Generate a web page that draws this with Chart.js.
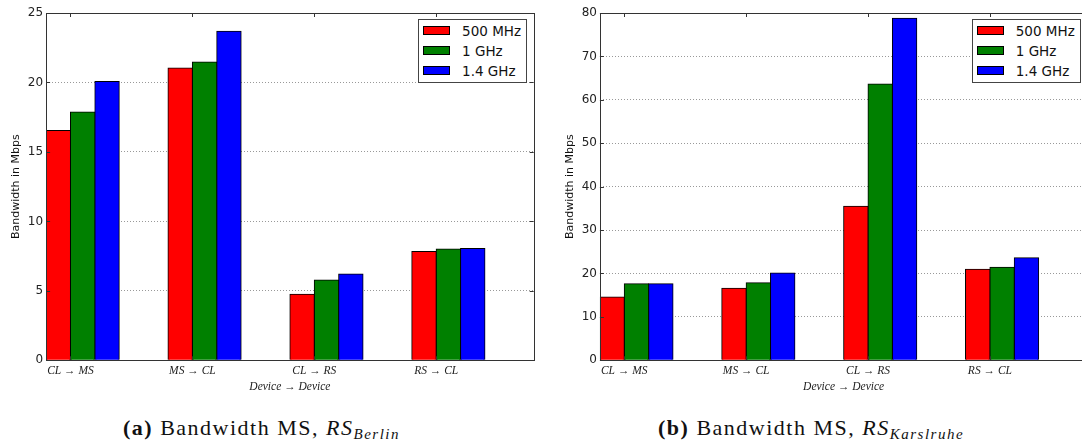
<!DOCTYPE html>
<html>
<head>
<meta charset="utf-8">
<script src="https://cdn.jsdelivr.net/npm/chart.js@4/dist/chart.umd.min.js"></script>
<style>
  html, body { margin: 0; padding: 0; background: #fff; overflow: hidden; }
  body { position: relative; width: 1082px; height: 447px; }
  .panel { position: absolute; top: 0; height: 400px; }
  .panel canvas { display: block; }
  .legend {
    position: absolute; box-sizing: border-box; width: 109.2px; height: 63.4px;
    border: 1px solid #444; background: #fff; padding-top: 0.5px;
    font-family: "DejaVu Sans", sans-serif; font-size: 13.5px; color: #111;
  }
  .legend .row { height: 20px; display: flex; align-items: center; }
  .legend .swatch {
    box-sizing: border-box; width: 27.6px; height: 9px; margin-left: 4px; margin-right: 11.7px;
    border: 1px solid #000;
  }
  .caption {
    position: absolute; top: 417.3px; white-space: nowrap;
    font-family: "Liberation Serif", serif; font-size: 22px; line-height: 22px; color: #111;
    letter-spacing: 1.5px;
  }
  .caption b { font-weight: bold; }
  .caption i { font-style: italic; }
  .caption .sub { font-style: italic; font-size: 15px; vertical-align: -4px; }
</style>
</head>
<body>
<div class="panel" id="panelBerlin" style="left:0; width:541px;">
  <canvas id="berlinChart" width="541" height="400"></canvas>
</div>
<div class="panel" id="panelKarlsruhe" style="left:541px; width:560px;">
  <canvas id="karlsruheChart" width="560" height="400"></canvas>
</div>
<div class="caption" style="left:123px;"><b>(a)</b> Bandwidth MS, <i>RS</i><span class="sub">Berlin</span></div>
<div class="caption" style="left:658px;"><b>(b)</b> Bandwidth MS, <i>RS</i><span class="sub">Karslruhe</span></div>

<script>
const categories = ['CL → MS', 'MS → CL', 'CL → RS', 'RS → CL'];
const clockRates = ['500 MHz', '1 GHz', '1.4 GHz'];
const barColors = ['#ff0000', '#008000', '#0000ff'];

// measured bandwidth (Mbps), RS located in Berlin
const berlin500 = [16.55, 21.04, 4.75, 7.84];
const berlin1000 = [17.87, 21.47, 5.78, 8.01];
const berlin1400 = [20.07, 23.68, 6.21, 8.04];
const berlinMax = 25;
const berlinStep = 5;

// measured bandwidth (Mbps), RS located in Karlsruhe
const karlsruhe500 = [14.58, 16.58, 35.47, 20.96];
const karlsruhe1000 = [17.65, 17.88, 63.65, 21.42];
const karlsruhe1400 = [17.65, 20.11, 78.77, 23.64];
const karlsruheMax = 80;
const karlsruheStep = 10;

const serifItalic = { family: 'Liberation Serif', style: 'italic', size: 11.5 };

// closed axes box with inward tick marks, like the old matplotlib style
const frame = {
  id: 'frame',
  afterDatasetsDraw(chart) {
    const { ctx, chartArea: a, scales: { x, y } } = chart;
    ctx.save();
    ctx.strokeStyle = '#333';
    ctx.lineWidth = 1;
    ctx.setLineDash([]);
    ctx.beginPath();
    x.ticks.forEach(t => {
      const px = Math.round(x.getPixelForValue(t.value)) + 0.5;
      ctx.moveTo(px, a.top); ctx.lineTo(px, a.top + 4);
      ctx.moveTo(px, a.bottom); ctx.lineTo(px, a.bottom - 4);
    });
    y.ticks.forEach(t => {
      const py = Math.round(y.getPixelForValue(t.value)) + 0.5;
      ctx.moveTo(a.left, py); ctx.lineTo(a.left + 4, py);
      ctx.moveTo(a.right, py); ctx.lineTo(a.right - 4, py);
    });
    ctx.stroke();
    ctx.strokeRect(Math.round(a.left) + 0.5, Math.round(a.top) + 0.5,
      Math.round(a.right - a.left), Math.round(a.bottom - a.top));
    ctx.restore();
  }
};

function makeDatasets(series) {
  return series.map((values, k) => ({
    label: clockRates[k],
    data: values.map((v, i) => ({ x: i + 0.3, y: v })),
    backgroundColor: barColors[k],
    borderColor: '#000',
    borderWidth: 1,
    inflateAmount: 0.5,
    categoryPercentage: 0.6,
    barPercentage: 1.0
  }));
}

function makeChart(id, series, yMax, yStep, axisWidth, titlePad, rightPad) {
  return new Chart(document.getElementById(id), {
    type: 'bar',
    data: { datasets: makeDatasets(series) },
    options: {
      responsive: false,
      animation: false,
      layout: { padding: { top: 13, right: rightPad, left: 0, bottom: 0 } },
      plugins: { legend: { display: false }, tooltip: { enabled: false } },
      scales: {
        x: {
          type: 'linear',
          offset: false,
          min: 0,
          max: categories.length,
          grid: { display: false },
          border: { display: false },
          afterBuildTicks: scale => {
            scale.ticks = categories.map((c, i) => ({ value: i + 0.2 }));
          },
          afterFit: scale => { scale.height = 39.7; },
          ticks: {
            autoSkip: false,
            maxRotation: 0,
            padding: -4,
            color: '#222',
            font: serifItalic,
            callback: (value, index) => categories[index]
          },
          title: {
            display: true,
            text: 'Device → Device',
            color: '#222',
            font: serifItalic,
            padding: { top: 0, bottom: 6.4 }
          }
        },
        y: {
          min: 0,
          max: yMax,
          afterFit: scale => { scale.width = axisWidth; },
          // dotted horizontal grid lines
          border: { display: false, dash: [1, 2] },
          grid: {
            drawTicks: false,
            color: ctx => (ctx.tick.value === 0 || ctx.tick.value === yMax) ? 'rgba(0,0,0,0)' : '#999',
            lineWidth: 1
          },
          ticks: {
            stepSize: yStep,
            padding: 3,
            color: '#222',
            font: { family: 'DejaVu Sans', size: 12 }
          },
          title: {
            display: true,
            text: 'Bandwidth in Mbps',
            color: '#111',
            font: { family: 'DejaVu Sans', size: 11 },
            padding: { top: titlePad, bottom: 0 }
          }
        }
      }
    },
    plugins: [frame]
  });
}

function addLegend(chart, holder) {
  const box = document.createElement('div');
  box.className = 'legend';
  chart.data.datasets.forEach(ds => {
    const row = document.createElement('div');
    row.className = 'row';
    const sw = document.createElement('span');
    sw.className = 'swatch';
    sw.style.background = ds.backgroundColor;
    const txt = document.createElement('span');
    txt.textContent = ds.label;
    row.appendChild(sw);
    row.appendChild(txt);
    box.appendChild(row);
  });
  const a = chart.chartArea;
  box.style.left = (a.right - 6.7 - 109.2) + 'px';
  box.style.top = (a.top + 6.3) + 'px';
  holder.appendChild(box);
}

const berlinChart = makeChart('berlinChart', [berlin500, berlin1000, berlin1400],
  berlinMax, berlinStep, 46.1, 9.4, 7.3);
const karlsruheChart = makeChart('karlsruheChart', [karlsruhe500, karlsruhe1000, karlsruhe1400],
  karlsruheMax, karlsruheStep, 58.9, 22.4, 13.6);

addLegend(berlinChart, document.getElementById('panelBerlin'));
addLegend(karlsruheChart, document.getElementById('panelKarlsruhe'));
</script>
</body>
</html>
